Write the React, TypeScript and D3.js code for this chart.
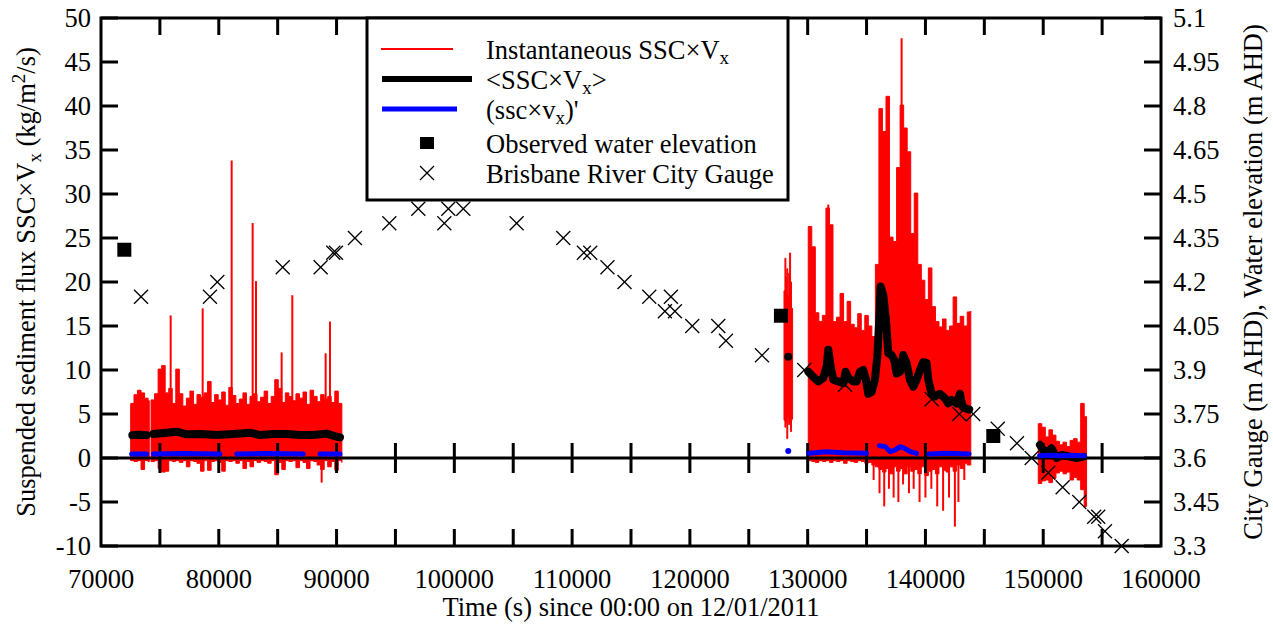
import React from 'react';
import * as d3 from 'd3';

const W = 1273;
const H = 624;
const PL = 101, PR = 1161, PT = 18, PB = 546;
const FONT = "Liberation Serif, Times New Roman, DejaVu Serif, serif";
const FS = 26.5;

const xTickValues = [70000, 80000, 90000, 100000, 110000, 120000, 130000, 140000, 150000, 160000];
const xMinorValues = [75000, 80000, 85000, 90000, 95000, 100000, 105000, 110000, 115000, 120000, 125000, 130000, 135000, 140000, 145000, 150000, 155000];
const yLeftTicks = [-10, -5, 0, 5, 10, 15, 20, 25, 30, 35, 40, 45, 50];
const yRightTicks = [3.3, 3.45, 3.6, 3.75, 3.9, 4.05, 4.2, 4.35, 4.5, 4.65, 4.8, 4.95, 5.1];
const yRightLabels = ['3.3', '3.45', '3.6', '3.75', '3.9', '4.05', '4.2', '4.35', '4.5', '4.65', '4.8', '4.95', '5.1'];

// Instantaneous SSC x Vx : envelopes (time, upper, lower)
const red1aT = [72520, 72800, 73100, 73400, 73700, 74000, 74100];
const red1aHi = [6.2, 7.2, 7.7, 7.4, 6.8, 6.5, 6.5];
const red1aLo = [-0.3, -0.4, -0.3, -1.3, -0.3, -0.4, -0.4];

const red1bT = [74250, 74550, 74850, 75150, 75450, 75750, 76050, 76350, 76650, 76950, 77250, 77550, 77850, 78150, 78450, 78750, 79050, 79350, 79650, 79950, 80250, 80550, 80850, 81150, 81450, 81750, 82050, 82350, 82650, 82950, 83250, 83550, 83850, 84150, 84450, 84750, 85050, 85350, 85650, 85950, 86250, 86550, 86850, 87150, 87450, 87750, 88050, 88350, 88650, 88950, 89250, 89550, 89850, 90150, 90450];
const red1bHi = [6.6, 7.3, 10.1, 10.5, 7.4, 7.9, 6.2, 10.1, 7.3, 5.9, 6.8, 7.6, 6.1, 7.2, 6.9, 7.4, 8.7, 6.3, 7.2, 6.6, 7.5, 6.0, 8.0, 7.1, 6.2, 6.7, 7.4, 6.1, 7.0, 7.3, 6.4, 6.9, 7.6, 6.2, 7.0, 8.9, 7.9, 6.3, 7.4, 7.0, 6.5, 7.3, 6.8, 7.5, 6.1, 7.7, 7.0, 6.4, 7.2, 6.7, 7.0, 6.3, 7.6, 6.2, 6.1];
const red1bLo = [-0.4, -0.3, -1.2, -1.6, -1.5, -0.3, -0.4, -0.3, -0.5, -0.3, -1.0, -0.3, -0.4, -0.6, -1.5, -0.3, -1.4, -0.4, -0.3, -0.5, -1.5, -0.3, -0.4, -0.3, -0.6, -0.3, -1.2, -0.4, -1.0, -0.3, -0.5, -0.3, -0.4, -0.6, -0.3, -1.9, -0.5, -1.3, -0.3, -0.4, -0.3, -1.1, -0.3, -0.5, -1.2, -0.3, -0.4, -0.8, -1.3, -0.3, -1.0, -0.4, -1.4, -0.3, -0.5];

const red2T = [127990, 128070, 128150, 128230, 128310, 128390, 128470, 128550, 128630, 128720];
const red2Hi = [19.0, 22.7, 20.5, 21.5, 18.5, 21.0, 23.3, 20.0, 17.0, 17.0];
const red2Lo = [4.3, 3.5, 4.0, 2.2, 4.5, 3.8, 4.2, 3.0, 4.4, 4.4];

const red3T = [130050, 130350, 130650, 130950, 131250, 131550, 131850, 132150, 132450, 132750, 133050, 133350, 133650, 133950, 134250, 134550, 134850, 135150, 135450, 135750, 136050, 136350, 136650, 136950, 137250, 137550, 137850, 138150, 138450, 138750, 139050, 139350, 139650, 139950, 140250, 140550, 140850, 141150, 141450, 141750, 142050, 142350, 142650, 142950, 143250, 143550, 143850];
const red3Hi = [26.3, 24.0, 16.5, 15.5, 16.2, 28.4, 26.5, 15.5, 16.0, 18.7, 15.5, 17.8, 15.2, 14.8, 16.4, 14.5, 16.2, 15.0, 13.8, 22.0, 39.7, 37.1, 41.1, 25.1, 24.6, 33.0, 40.1, 37.5, 34.8, 25.5, 30.1, 22.0, 20.2, 18.0, 21.6, 17.2, 15.5, 14.9, 15.8, 14.5, 15.0, 18.3, 15.3, 16.1, 15.0, 16.6, 16.7];
const red3Lo = [-0.3, -0.4, -0.5, -0.3, -0.4, -0.3, -0.5, -0.3, -0.4, -0.3, -0.6, -0.3, -0.4, -0.5, -0.3, -0.4, -0.6, -0.5, -0.8, -1.0, -1.3, -1.6, -1.2, -1.8, -1.0, -1.5, -1.2, -1.8, -1.0, -1.5, -1.3, -1.8, -1.0, -2.0, -1.5, -1.3, -1.8, -1.0, -1.4, -1.6, -1.0, -1.5, -0.8, -1.2, -0.6, -0.8, -0.5];

const red4T = [149580, 149880, 150180, 150480, 150780, 151080, 151380, 151680, 151980, 152280, 152580, 152880, 153180, 153480, 153680];
const red4Hi = [3.9, 3.5, 2.4, 3.2, 2.6, 1.9, 1.5, 1.8, 1.3, 2.0, 2.2, 1.8, 6.2, 4.7, 3.2];
const red4Lo = [-2.9, -2.6, -2.5, -2.8, -2.3, -1.7, -1.5, -1.8, -1.6, -2.5, -2.2, -2.5, -3.6, -5.5, -3.0];

// isolated thin spikes of the instantaneous flux
const spikeT = [75915, 78632, 81093, 82876, 83159, 85338, 86243, 89073, 89441, 88735, 131751, 137977,
  135600, 136100, 136500, 136900, 137300, 137700, 138100, 138600, 139000, 139500, 140000, 140500, 141000, 141500, 142000, 142500, 142800, 143300];
const spikeV = [16.2, 17.0, 33.8, 26.7, 20.1, 12.0, 18.5, 11.9, 15.5, -2.8, 28.8, 47.7,
  -2.5, -4.0, -5.5, -3.5, -4.5, -5.0, -3.0, -4.0, -3.5, -5.0, -4.5, -3.5, -5.5, -6.0, -4.5, -7.8, -5.0, -2.5];

// <SSC x Vx>
const mean1aT = [72660, 73200, 73877];
const mean1aV = [2.6, 2.65, 2.6];
const mean1bT = [74443, 75575, 76424, 77273, 78405, 79820, 81235, 82650, 83499, 84631, 85763, 86895, 88027, 89159, 90008, 90291];
const mean1bV = [2.73, 2.88, 2.99, 2.69, 2.73, 2.61, 2.73, 2.88, 2.61, 2.73, 2.73, 2.61, 2.61, 2.77, 2.42, 2.35];
const mean3T = [130052, 130478, 130903, 131328, 131611, 131753, 131951, 132178, 132602, 133027, 133225, 133452, 133877, 134160, 134439, 134722, 134949, 135147, 135430, 135713, 135911, 136081, 136194, 136420, 136647, 136845, 137128, 137354, 137552, 137835, 138115, 138400, 138683, 138966, 139250, 139533, 139815, 140100, 140240, 140523, 140806, 141230, 141656, 141935, 142225, 142650, 142930, 143155, 143495, 143720];
const mean3V = [9.8, 9.2, 8.7, 9.1, 10.4, 12.3, 10.4, 8.9, 8.7, 8.5, 9.8, 9.1, 8.7, 8.7, 9.8, 10.0, 8.9, 7.3, 7.5, 8.9, 11.5, 15.7, 19.5, 18.5, 15.7, 11.9, 11.7, 11.1, 9.6, 9.8, 11.7, 10.8, 8.9, 8.1, 8.9, 10.0, 10.9, 10.8, 8.9, 7.3, 7.0, 7.3, 6.8, 6.2, 6.6, 6.2, 7.3, 5.8, 5.6, 5.5];
const mean4T = [149721, 150004, 150429, 150712, 151136, 151561, 152268, 152834, 153400];
const mean4V = [1.5, 0.9, 0.7, 1.1, 0.0, 0.34, 0.15, 0.0, 0.15];
const meanDotT = [128352];
const meanDotV = [11.5];

// (ssc x vx)'
const fluct1aT = [72604, 73877];
const fluct1aV = [0.45, 0.45];
const fluct1bT = [74443, 77000, 80103];
const fluct1bV = [0.45, 0.5, 0.45];
const fluct1cT = [81518, 84000, 87178];
const fluct1cV = [0.45, 0.5, 0.45];
const fluct1dT = [88593, 90291];
const fluct1dV = [0.45, 0.45];
const fluct3aT = [130100, 131600, 133000, 135000];
const fluct3aV = [0.53, 0.72, 0.6, 0.53];
const fluct3bT = [136100, 136600, 137000, 137400, 137850, 138250, 138700, 139250];
const fluct3bV = [1.4, 1.29, 0.72, 0.9, 1.29, 1.1, 0.72, 0.53];
const fluct3cT = [140300, 141800, 143700];
const fluct3cV = [0.45, 0.53, 0.45];
const fluct4T = [149700, 150500, 151500, 152500, 153500];
const fluct4V = [0.25, 0.3, 0.25, 0.3, 0.25];
const fluctDotT = [128352];
const fluctDotV = [0.8];

// Observed water elevation (right axis)
const obsT = [71980, 127730, 145760];
const obsV = [4.31, 4.085, 3.675];

// Brisbane River City Gauge (right axis)
const gaugeT = [73400, 79250, 79875, 85430, 88650, 89720, 89950, 91560, 94480, 96940, 99150, 99490, 100760, 105290, 109250, 111000, 111540, 113000, 114450, 116550, 118390, 117880, 118730, 120200, 122410, 123060, 126120, 129710, 133170, 140530, 142870, 144060, 146140, 147770, 149020, 150430, 151650, 153060, 154330, 154670, 155240, 156660];
const gaugeV = [4.15, 4.15, 4.2, 4.25, 4.25, 4.3, 4.3, 4.35, 4.4, 4.45, 4.4, 4.45, 4.45, 4.4, 4.35, 4.3, 4.3, 4.25, 4.2, 4.15, 4.15, 4.1, 4.1, 4.05, 4.05, 4.0, 3.95, 3.9, 3.85, 3.8, 3.75, 3.75, 3.7, 3.65, 3.6, 3.55, 3.5, 3.45, 3.4, 3.4, 3.35, 3.3];

const x = d3.scaleLinear().domain([70000, 160000]).range([PL, PR]);
const y = d3.scaleLinear().domain([-10, 50]).range([PB, PT]);
const y2 = d3.scaleLinear().domain([3.3, 5.1]).range([PB, PT]);

type Band = { t: number; hi: number; lo: number };
const zipBand = (t: number[], hi: number[], lo: number[]): Band[] => t.map((tt, i) => ({ t: tt, hi: hi[i], lo: lo[i] }));
const zipPts = (t: number[], v: number[]) => t.map((tt, i) => [tt, v[i]] as [number, number]);

const bandArea = d3.area<Band>().x(d => x(d.t)).y0(d => y(d.lo)).y1(d => y(d.hi)).curve(d3.curveStepAfter);
const lineL = d3.line<[number, number]>().x(d => x(d[0])).y(d => y(d[1]));

const redBands = [
  zipBand(red1aT, red1aHi, red1aLo),
  zipBand(red1bT, red1bHi, red1bLo),
  zipBand(red2T, red2Hi, red2Lo),
  zipBand(red3T, red3Hi, red3Lo),
  zipBand(red4T, red4Hi, red4Lo),
];
const meanLines = [zipPts(mean1aT, mean1aV), zipPts(mean1bT, mean1bV), zipPts(mean3T, mean3V), zipPts(mean4T, mean4V)];
const fluctLines = [
  zipPts(fluct1aT, fluct1aV), zipPts(fluct1bT, fluct1bV), zipPts(fluct1cT, fluct1cV), zipPts(fluct1dT, fluct1dV),
  zipPts(fluct3aT, fluct3aV), zipPts(fluct3bT, fluct3bV), zipPts(fluct3cT, fluct3cV), zipPts(fluct4T, fluct4V),
];

function Cross({ cx, cy, s }: { cx: number; cy: number; s: number }) {
  return (
    <g stroke="#000" strokeWidth={1.3}>
      <line x1={cx - s} y1={cy - s} x2={cx + s} y2={cy + s} />
      <line x1={cx - s} y1={cy + s} x2={cx + s} y2={cy - s} />
    </g>
  );
}

export default function App() {
  const tickLen = 17;
  const legendX = 486;
  const rows = [49, 79, 109, 143, 173];
  return (
    <svg width={W} height={H} style={{ position: 'absolute', left: 0, top: 0, background: '#fff', fontFamily: FONT }}>
      <rect x={0} y={0} width={W} height={H} fill="#fff" />
      {/* red instantaneous */}
      {redBands.map((b, i) => (
        <path key={'rb' + i} d={bandArea(b) || ''} fill="#ff0000" stroke="#ff0000" strokeWidth={1} />
      ))}
      {spikeT.map((t, i) => (
        <line key={'sp' + i} x1={x(t)} x2={x(t)} y1={y(spikeV[i] > 0 ? 3 : 0)} y2={y(spikeV[i])} stroke="#ff0000" strokeWidth={2} />
      ))}
      {/* zero axis */}
      <line x1={PL} x2={PR} y1={y(0)} y2={y(0)} stroke="#000" strokeWidth={3} />
      {xMinorValues.map(v => (
        <line key={'z' + v} x1={x(v)} x2={x(v)} y1={y(0) - 15} y2={y(0) + 15} stroke="#000" strokeWidth={3} />
      ))}
      {/* mean */}
      {meanLines.map((l, i) => (
        <path key={'ml' + i} d={lineL(l) || ''} fill="none" stroke="#000" strokeWidth={8} strokeLinejoin="round" strokeLinecap="round" />
      ))}
      {meanDotT.map((t, i) => <circle key={'md' + i} cx={x(t)} cy={y(meanDotV[i])} r={4} fill="#000" />)}
      {/* fluctuation */}
      {fluctLines.map((l, i) => (
        <path key={'fl' + i} d={lineL(l) || ''} fill="none" stroke="#0000ff" strokeWidth={5} strokeLinejoin="round" strokeLinecap="round" />
      ))}
      {fluctDotT.map((t, i) => <circle key={'fd' + i} cx={x(t)} cy={y(fluctDotV[i])} r={3} fill="#0000ff" />)}
      {/* observed water elevation */}
      {obsT.map((t, i) => (
        <rect key={'ob' + i} x={x(t) - 7} y={y2(obsV[i]) - 7} width={14} height={14} fill="#000" />
      ))}
      {/* city gauge */}
      {gaugeT.map((t, i) => <Cross key={'g' + i} cx={x(t)} cy={y2(gaugeV[i])} s={7} />)}

      {/* border ticks */}
      {xMinorValues.map(v => (
        <g key={'bt' + v} stroke="#000" strokeWidth={3}>
          <line x1={x(v)} x2={x(v)} y1={PB} y2={PB - tickLen} />
          <line x1={x(v)} x2={x(v)} y1={PT} y2={PT + tickLen} />
        </g>
      ))}
      {yLeftTicks.map(v => (
        <line key={'lt' + v} x1={PL} x2={PL + tickLen} y1={y(v)} y2={y(v)} stroke="#000" strokeWidth={3} />
      ))}
      {yRightTicks.map(v => (
        <line key={'rt' + v} x1={PR} x2={PR - tickLen} y1={y2(v)} y2={y2(v)} stroke="#000" strokeWidth={3} />
      ))}
      <rect x={PL} y={PT} width={PR - PL} height={PB - PT} fill="none" stroke="#000" strokeWidth={3} />

      {/* tick labels */}
      {yLeftTicks.map(v => (
        <text key={'ll' + v} x={91} y={y(v) + 9} fontSize={FS} textAnchor="end">{v}</text>
      ))}
      {yRightTicks.map((v, i) => (
        <text key={'rl' + v} x={1173} y={y2(v) + 9} fontSize={FS} textAnchor="start">{yRightLabels[i]}</text>
      ))}
      {xTickValues.map(v => (
        <text key={'xl' + v} x={x(v)} y={588} fontSize={FS} textAnchor="middle">{v}</text>
      ))}

      {/* axis titles */}
      <text x={(PL + PR) / 2} y={616} fontSize={FS} textAnchor="middle">Time (s) since 00:00 on 12/01/2011</text>
      <text transform={`translate(35, ${(PT + PB) / 2}) rotate(-90)`} fontSize={FS} textAnchor="middle">
        Suspended sediment flux SSC×V<tspan dy={6} fontSize={19}>x</tspan><tspan dy={-6}> (kg/m</tspan><tspan dy={-10} fontSize={19}>2</tspan><tspan dy={10}>/s)</tspan>
      </text>
      <text transform={`translate(1262, ${(PT + PB) / 2}) rotate(-90)`} fontSize={FS} textAnchor="middle">
        City Gauge (m AHD), Water elevation (m AHD)
      </text>

      {/* legend */}
      <rect x={367} y={PT} width={421} height={182} fill="#fff" stroke="#000" strokeWidth={3} />
      <line x1={381} x2={453} y1={rows[0]} y2={rows[0]} stroke="#ff0000" strokeWidth={2} />
      <line x1={382} x2={472} y1={rows[1]} y2={rows[1]} stroke="#000" strokeWidth={6} />
      <line x1={382} x2={457} y1={rows[2]} y2={rows[2]} stroke="#0000ff" strokeWidth={5} />
      <rect x={420} y={rows[3] - 6} width={14} height={12} fill="#000" />
      <Cross cx={427} cy={rows[4]} s={7} />
      <text x={legendX} y={rows[0] + 10} fontSize={FS}>Instantaneous SSC×V<tspan dy={5} fontSize={19}>x</tspan></text>
      <text x={legendX} y={rows[1] + 10} fontSize={FS}>&lt;SSC×V<tspan dy={5} fontSize={19}>x</tspan><tspan dy={-5}>&gt;</tspan></text>
      <text x={legendX} y={rows[2] + 10} fontSize={FS}>(ssc×v<tspan dy={5} fontSize={19}>x</tspan><tspan dy={-5}>)'</tspan></text>
      <text x={legendX} y={rows[3] + 10} fontSize={FS}>Observed water elevation</text>
      <text x={legendX} y={rows[4] + 10} fontSize={FS}>Brisbane River City Gauge</text>
    </svg>
  );
}
